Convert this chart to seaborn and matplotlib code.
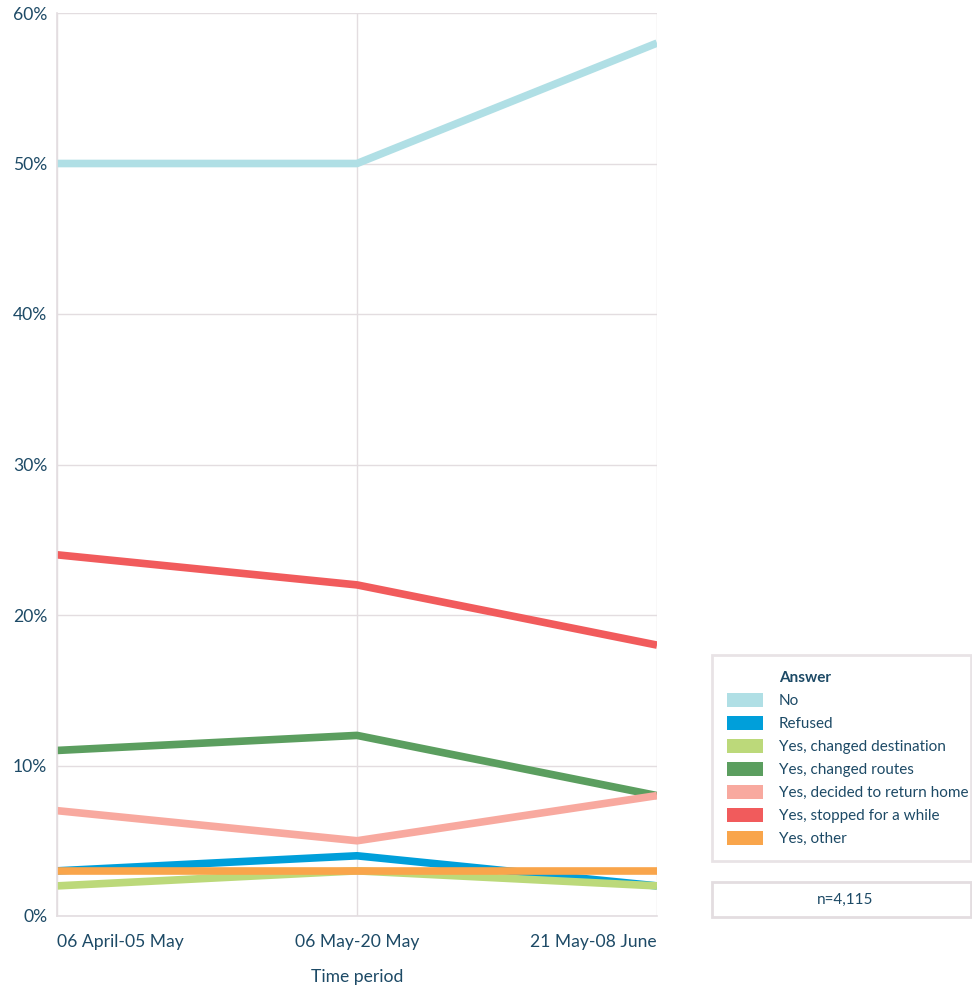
import matplotlib
matplotlib.use("Agg")
import matplotlib.pyplot as plt
from matplotlib.patches import Patch, Rectangle
import seaborn as sns
import pandas as pd

periods = ["06 April-05 May", "06 May-20 May", "21 May-08 June"]
answers = ["No", "Refused", "Yes, changed destination", "Yes, changed routes",
           "Yes, decided to return home", "Yes, stopped for a while", "Yes, other"]
no_vals = [50, 50, 58]
refused_vals = [3, 4, 2]
changed_dest_vals = [2, 3, 2]
changed_routes_vals = [11, 12, 8]
return_home_vals = [7, 5, 8]
stopped_vals = [24, 22, 18]
other_vals = [3, 3, 3]
colors = ["#b0dfe5", "#009fda", "#bcd97a", "#5b9e5f", "#f8a99f", "#f15b5c", "#f9a54b"]
sample_note = "n=4,115"

series = [no_vals, refused_vals, changed_dest_vals, changed_routes_vals,
          return_home_vals, stopped_vals, other_vals]
rows = []
for ans, vals in zip(answers, series):
    for i, v in enumerate(vals):
        rows.append({"Time period": i, "Answer": ans, "Share": v})
df = pd.DataFrame(rows)

sns.set_style("white")
plt.rcParams["font.family"] = ["Lato", "DejaVu Sans"]
text_color = "#1d4a66"
grid_color = "#e3dde0"

fig = plt.figure(figsize=(9.72, 9.85), dpi=100)
ax = fig.add_axes([57 / 972, 1 - 916 / 985, 600 / 972, 903 / 985])

sns.lineplot(data=df, x="Time period", y="Share", hue="Answer",
             hue_order=answers, palette=colors, linewidth=5.5,
             legend=False, ax=ax, solid_capstyle="butt")

ax.set_xlim(0, 2)
ax.set_ylim(0, 60)
ax.set_yticks([0, 10, 20, 30, 40, 50, 60])
ax.set_yticklabels([f"{t}%" for t in [0, 10, 20, 30, 40, 50, 60]])
ax.set_xticks([0, 1, 2])
ax.set_xticklabels(periods)
for lbl, ha in zip(ax.get_xticklabels(), ["left", "center", "right"]):
    lbl.set_ha(ha)
ax.tick_params(axis="both", length=0, labelsize=12.6, labelcolor=text_color)
ax.tick_params(axis="x", pad=13)
ax.tick_params(axis="y", pad=7)
ax.set_ylabel("")
ax.set_xlabel("Time period", fontsize=12.6, color=text_color)
ax.xaxis.set_label_coords(0.5, (916 - 969) / 903)
ax.grid(True, color=grid_color, linewidth=1)
ax.set_axisbelow(True)
for side in ["top", "right"]:
    ax.spines[side].set_visible(False)
for side in ["left", "bottom"]:
    ax.spines[side].set_color(grid_color)
    ax.spines[side].set_linewidth(1.2)

# Legend box
handles = [Patch(facecolor="none", edgecolor="none", label="Answer")]
handles += [Patch(facecolor=c, edgecolor="none", label=a) for a, c in zip(answers, colors)]
leg = fig.legend(handles=handles, loc="upper left",
                 bbox_to_anchor=(712 / 972, 1 - 655 / 985 - 0.01, 259 / 972, 0.01),
                 mode="expand", frameon=True, fontsize=11,
                 handlelength=2.42, handleheight=1.1, handletextpad=1.0,
                 labelspacing=0.49, borderpad=0.95, borderaxespad=0,
                 fancybox=False, labelcolor=text_color)
leg.get_frame().set_edgecolor(grid_color)
leg.get_frame().set_linewidth(2)
leg.get_texts()[0].set_fontweight("bold")

# Sample size box
fig.patches.append(Rectangle((712 / 972, 1 - 917 / 985), 259 / 972, 35 / 985,
                             transform=fig.transFigure, facecolor="white",
                             edgecolor=grid_color, linewidth=2))
fig.text(845 / 972, 1 - 900 / 985, sample_note, ha="center", va="center",
         fontsize=11, color=text_color)

fig.savefig("out.png", dpi=100)
